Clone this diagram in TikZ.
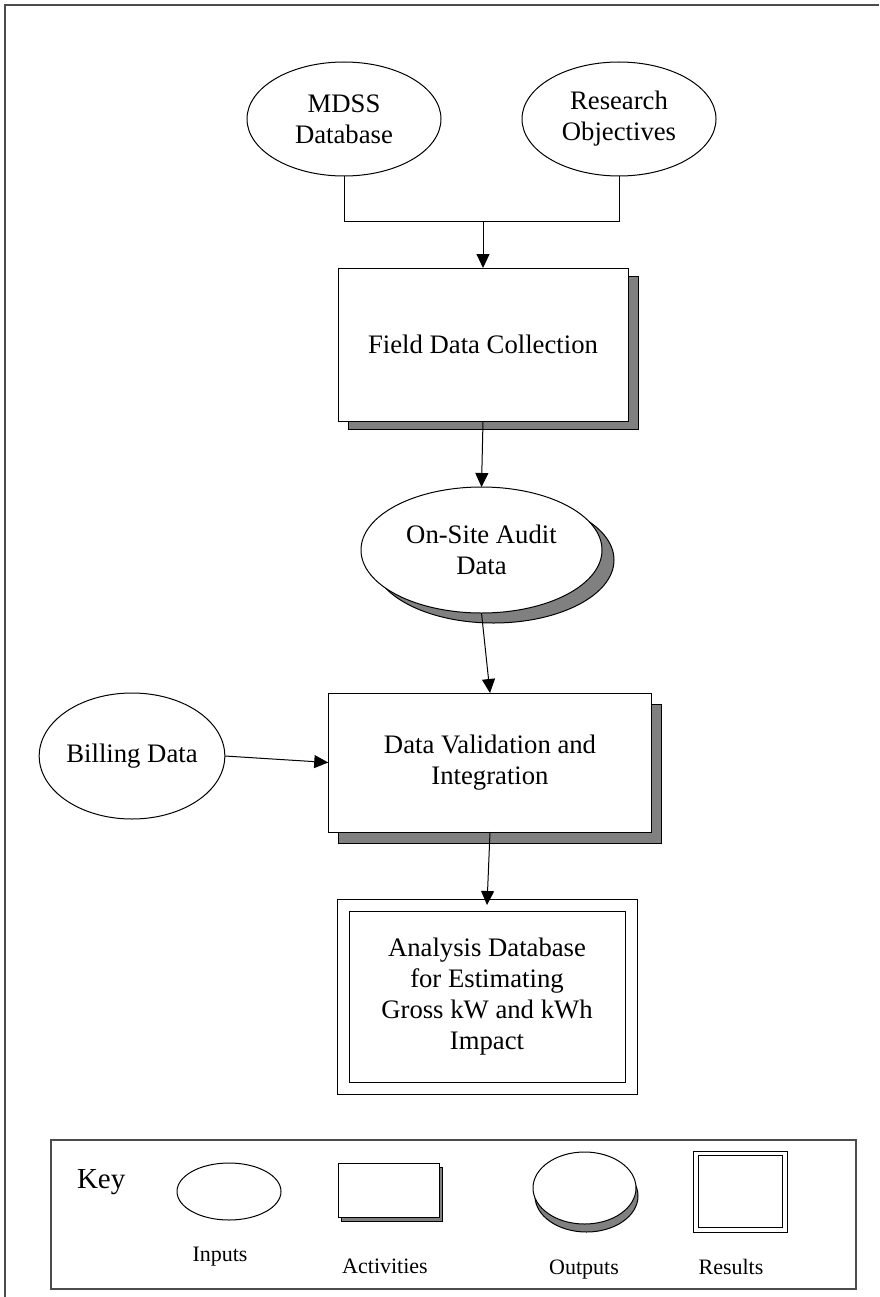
\documentclass[tikz,border=0pt]{standalone}
\usepackage{fontspec}
\setmainfont{Liberation Serif}
\usetikzlibrary{shapes.geometric,arrows.meta,shadows}
\begin{document}
\begin{tikzpicture}[x=1pt,y=-1pt,
  every node/.style={inner sep=0pt,outer sep=0pt,align=center},
  mainfont/.style={font=\fontsize{26.7}{31}\selectfont},
  inpnode/.style={ellipse,draw,line width=1pt,fill=white,mainfont},
  actnode/.style={rectangle,draw,line width=1pt,fill=white,mainfont,
    drop shadow={shadow xshift=#1,shadow yshift=-#1,fill=gray,draw=black,line width=1pt,opacity=1}},
  outnode/.style={ellipse,draw,line width=1pt,fill=white,mainfont},
  resnode/.style={rectangle,draw,line width=1pt,double,double distance=#1,mainfont},
  arr/.style={line width=1pt,-{Triangle[length=14pt,width=13pt]}},
  keylabel/.style={font=\fontsize{22}{26}\selectfont,anchor=base},
  frameline/.style={draw=black!70,line width=1.3pt}
]
\useasboundingbox (0,0) rectangle (879,1297);
% page frame (top and left edges)
\draw[frameline] (5,1297) -- (5,5) -- (879,5);

% inputs
\node[inpnode,minimum width=194pt,minimum height=114pt] (mdss) at (344,119) {MDSS\\Database};
\node[inpnode,minimum width=194pt,minimum height=114pt] (resobj) at (619,119) {Research\\Objectives};
\coordinate (joint) at (483,222);

% field data collection
\node[rectangle,draw,line width=1pt,fill=white,mainfont,minimum width=290pt,minimum height=153pt,
  drop shadow={shadow xshift=10pt,shadow yshift=-8pt,fill=gray,draw=black,line width=1pt,opacity=1}]
  (field) at (483,344.5) {Field Data Collection};

% on-site audit data (output)
\node[outnode,minimum width=241pt,minimum height=126pt,
  drop shadow={shadow xshift=12pt,shadow yshift=-10pt,fill=gray,draw=black,line width=1pt,opacity=1}]
  (onsite) at (481.5,550) {On-Site Audit\\Data};

% data validation
\node[rectangle,draw,line width=1pt,fill=white,mainfont,minimum width=323.5pt,minimum height=139pt,
  drop shadow={shadow xshift=10pt,shadow yshift=-11pt,fill=gray,draw=black,line width=1pt,opacity=1}]
  (dv) at (490,762.5) {Data Validation and\\Integration};

% billing data
\node[inpnode,minimum width=184pt,minimum height=126pt] (bill) at (132,756) {Billing Data};

% result
\node[resnode=11pt,minimum width=288pt,minimum height=183.5pt] (result) at (487,996.75)
  {Analysis Database\\for Estimating\\Gross kW and kWh\\Impact};

% connectors
\draw[line width=1pt] (mdss.south) |- (joint);
\draw[line width=1pt] (resobj.south) |- (joint);
\draw[arr] (joint) -- (field.north);
\draw[arr] (field.south) -- (onsite.north);
\draw[arr] (onsite.south) -- (dv.north);
\draw[arr] (bill.east) -- (dv.west);
\draw[arr] (dv.south) -- (result.north);

% key
\node[draw=black!70,line width=1.3pt,rectangle,minimum width=805pt,minimum height=149pt] (keybox) at (453.5,1214.5) {};
\node[anchor=base west,font=\fontsize{29}{33}\selectfont] (keytitle) at (77,1188) {Key};
\node[ellipse,draw,line width=1pt,minimum width=104pt,minimum height=57pt] (kin) at (229,1191.5) {};
\node[rectangle,draw,line width=1pt,fill=white,minimum width=101pt,minimum height=54pt,
  drop shadow={shadow xshift=3pt,shadow yshift=-4pt,fill=gray,draw=black,line width=1pt,opacity=1}]
  (kact) at (388.5,1190) {};
\node[ellipse,draw,line width=1pt,fill=white,minimum width=103pt,minimum height=72pt,
  drop shadow={shadow xshift=2pt,shadow yshift=-8pt,fill=gray,draw=black,line width=1pt,opacity=1}]
  (kout) at (584.5,1188) {};
\node[resnode=3.5pt,minimum width=89pt,minimum height=76.5pt] (kres) at (740.5,1191.75) {};
\node[keylabel] (lin) at (220,1261) {Inputs};
\node[keylabel] (lact) at (385,1273) {Activities};
\node[keylabel] (lout) at (584,1274) {Outputs};
\node[keylabel] (lres) at (731,1274) {Results};
\end{tikzpicture}
\end{document}
